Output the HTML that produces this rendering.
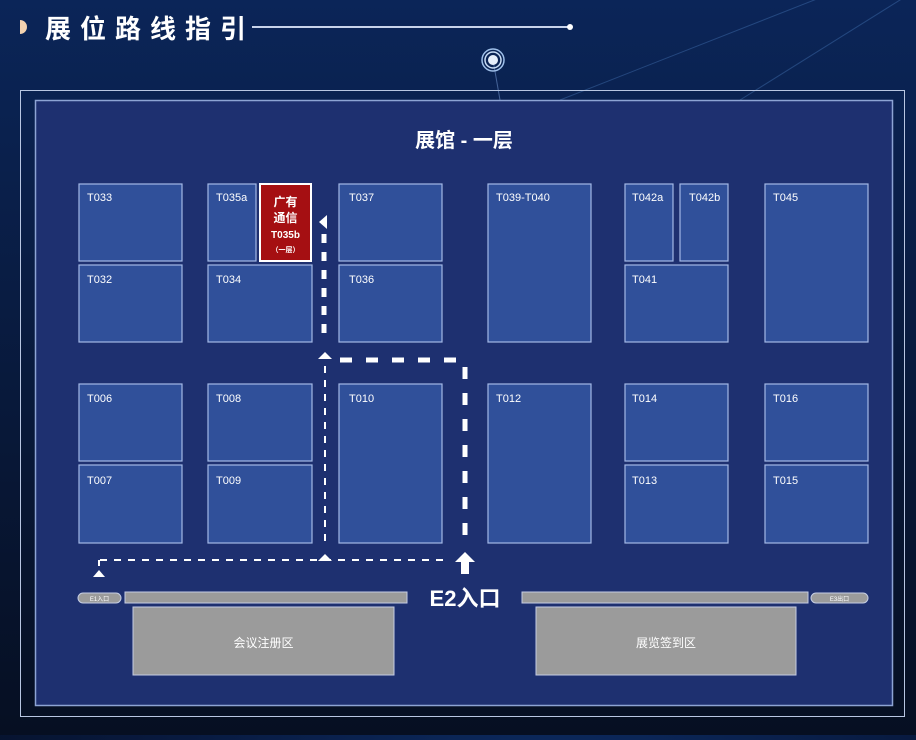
<!DOCTYPE html>
<html><head><meta charset="utf-8"><style>
html,body{margin:0;padding:0;}
body{width:916px;height:735px;overflow:hidden;background:radial-gradient(ellipse at 60% 20%,#0d2e66 0%,#081a40 50%,#050d1e 100%);font-family:"Liberation Sans","Noto Sans CJK SC",sans-serif;}
svg text{font-family:"Liberation Sans","Noto Sans CJK SC",sans-serif;}
</style></head><body>
<svg width="916" height="735" viewBox="0 0 916 735" xmlns="http://www.w3.org/2000/svg">
<defs><linearGradient id="bg" x1="0" y1="0" x2="0" y2="1"><stop offset="0" stop-color="#0b2558"/><stop offset="1" stop-color="#060f22"/></linearGradient></defs>
<rect width="916" height="735" fill="url(#bg)"/>
<line x1="560" y1="100" x2="916" y2="-40" stroke="#3d6aa8" stroke-width="1" opacity="0.5"/>
<line x1="740" y1="100" x2="916" y2="-10" stroke="#3d6aa8" stroke-width="1" opacity="0.5"/>
<line x1="493" y1="60" x2="500" y2="100" stroke="#6c8fc8" stroke-width="1" opacity="0.6"/>
<path d="M20 20 A7 7 0 0 1 20 34 Z" fill="#f3d2b0"/>
<text x="45" y="38" font-size="26" font-weight="bold" fill="#fff" letter-spacing="9">展位路线指引</text>
<line x1="252" y1="27" x2="570" y2="27" stroke="#c8d3ea" stroke-width="2"/>
<circle cx="570" cy="27" r="3" fill="#fff"/>
<circle cx="493" cy="60" r="11" fill="none" stroke="#9fc0ea" stroke-width="1.5"/>
<circle cx="493" cy="60" r="8" fill="none" stroke="#c8dcf5" stroke-width="1.5"/>
<circle cx="493" cy="60" r="5" fill="#e6eefa"/>
<rect x="20.5" y="90.5" width="884" height="626" fill="none" stroke="#b8c6e2" stroke-width="1"/>
<rect x="35.5" y="100.5" width="857" height="605" fill="#1e3070" stroke="#8da4d4" stroke-width="1.5"/>
<text x="464" y="147" font-size="20" font-weight="bold" fill="#fff" text-anchor="middle">展馆 - 一层</text>
<g fill="#30509a" stroke="#a3b8e6" stroke-width="1.2">
<rect x="79" y="184" width="103" height="77"/><rect x="79" y="265" width="103" height="77"/>
<rect x="208" y="184" width="48" height="77"/><rect x="208" y="265" width="104" height="77"/>
<rect x="339" y="184" width="103" height="77"/><rect x="339" y="265" width="103" height="77"/>
<rect x="488" y="184" width="103" height="158"/>
<rect x="625" y="184" width="48" height="77"/><rect x="680" y="184" width="48" height="77"/>
<rect x="625" y="265" width="103" height="77"/><rect x="765" y="184" width="103" height="158"/>
<rect x="79" y="384" width="103" height="77"/><rect x="79" y="465" width="103" height="78"/>
<rect x="208" y="384" width="104" height="77"/><rect x="208" y="465" width="104" height="78"/>
<rect x="339" y="384" width="103" height="159"/><rect x="488" y="384" width="103" height="159"/>
<rect x="625" y="384" width="103" height="77"/><rect x="625" y="465" width="103" height="78"/>
<rect x="765" y="384" width="103" height="77"/><rect x="765" y="465" width="103" height="78"/>
</g>
<g font-size="11" fill="#fff">
<text x="87" y="201">T033</text><text x="87" y="283">T032</text>
<text x="216" y="201">T035a</text><text x="216" y="283">T034</text>
<text x="349" y="201">T037</text><text x="349" y="283">T036</text>
<text x="496" y="201">T039-T040</text>
<text x="632" y="201">T042a</text><text x="689" y="201">T042b</text>
<text x="632" y="283">T041</text><text x="773" y="201">T045</text>
<text x="87" y="402">T006</text><text x="87" y="484">T007</text>
<text x="216" y="402">T008</text><text x="216" y="484">T009</text>
<text x="349" y="402">T010</text><text x="496" y="402">T012</text>
<text x="632" y="402">T014</text><text x="632" y="484">T013</text>
<text x="773" y="402">T016</text><text x="773" y="484">T015</text>
</g>
<rect x="260" y="184" width="51" height="77" fill="#a50f12" stroke="#fff" stroke-width="2"/>
<g fill="#fff" font-weight="bold" text-anchor="middle">
<text x="285.5" y="206" font-size="12">广有</text>
<text x="285.5" y="222" font-size="12">通信</text>
<text x="285.5" y="238" font-size="10">T035b</text>
<text x="285.5" y="252" font-size="7">（一层）</text>
</g>
<!-- paths -->
<g stroke="#fff" fill="none">
<line x1="324" y1="234" x2="324" y2="340" stroke-width="5" stroke-dasharray="9,9"/>
<line x1="340" y1="360" x2="458" y2="360" stroke-width="5" stroke-dasharray="12,14"/>
<line x1="465" y1="367" x2="465" y2="538" stroke-width="5" stroke-dasharray="12,14"/>
<line x1="325" y1="366" x2="325" y2="542" stroke-width="2" stroke-dasharray="7,7"/>
<line x1="100" y1="560" x2="444" y2="560" stroke-width="2" stroke-dasharray="7,7"/>
<line x1="99" y1="560" x2="99" y2="566" stroke-width="2"/>
</g>
<g fill="#fff">
<polygon points="319,222 327,215 327,229"/>
<polygon points="318,359 325,352 332,359"/>
<polygon points="318,561 325,554 332,561"/>
<polygon points="93,577 99,570 105,577"/>
<polygon points="455,562 465,552 475,562 469,562 469,574 461,574 461,562"/>
</g>
<rect x="78" y="593" width="43" height="10" rx="5" fill="#9b9b9b" stroke="#c5cde3" stroke-width="1"/>
<text x="99.5" y="601" font-size="6" fill="#fff" text-anchor="middle">E1入口</text>
<rect x="125" y="592" width="282" height="11" fill="#9b9b9b" stroke="#c5cde3" stroke-width="1"/>
<text x="465" y="606" font-size="22" font-weight="bold" fill="#fff" text-anchor="middle">E2入口</text>
<rect x="522" y="592" width="286" height="11" fill="#9b9b9b" stroke="#c5cde3" stroke-width="1"/>
<rect x="811" y="593" width="57" height="10" rx="5" fill="#9b9b9b" stroke="#c5cde3" stroke-width="1"/>
<text x="839.5" y="601" font-size="6" fill="#fff" text-anchor="middle">E3出口</text>
<rect x="133" y="607" width="261" height="68" fill="#9b9b9b" stroke="#c5cde3" stroke-width="1"/>
<text x="263.5" y="647" font-size="12" fill="#fff" text-anchor="middle">会议注册区</text>
<rect x="536" y="607" width="260" height="68" fill="#9b9b9b" stroke="#c5cde3" stroke-width="1"/>
<text x="666" y="647" font-size="12" fill="#fff" text-anchor="middle">展览签到区</text>
</svg>
</body></html>
